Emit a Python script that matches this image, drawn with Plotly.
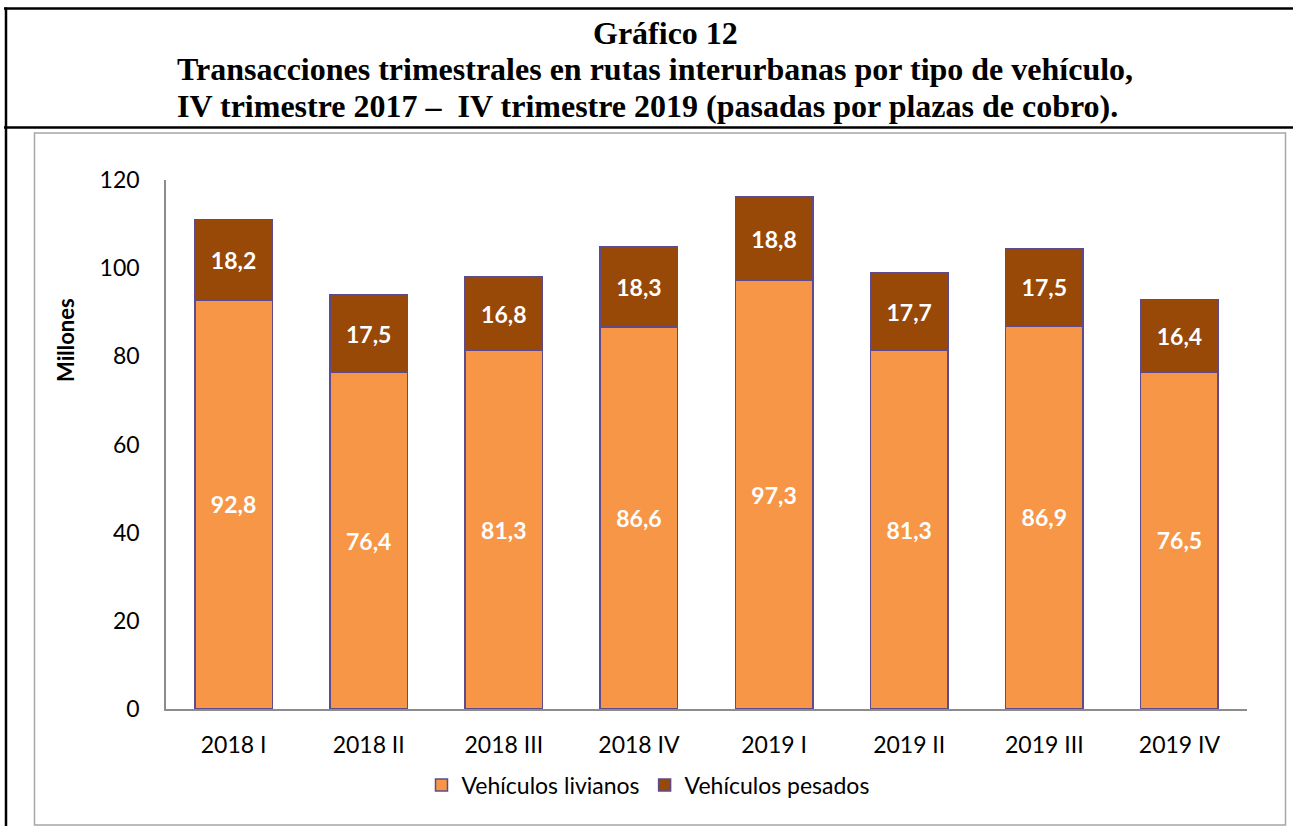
import plotly.graph_objects as go

categories = ["2018 I", "2018 II", "2018 III", "2018 IV", "2019 I", "2019 II", "2019 III", "2019 IV"]
livianos = [92.8, 76.4, 81.3, 86.6, 97.3, 81.3, 86.9, 76.5]
pesados = [18.2, 17.5, 16.8, 18.3, 18.8, 17.7, 17.5, 16.4]
series_names = ["Vehículos livianos", "Vehículos pesados"]
title_lines = [
    "Gráfico 12",
    "Transacciones trimestrales en rutas interurbanas por tipo de vehículo,",
    "IV trimestre 2017 –  IV trimestre 2019 (pasadas por plazas de cobro).",
]

W, H = 1293, 826
L, R, T, B = 166, 1247, 180, 709
pw, ph = R - L, B - T

def px(x):
    return (x - L) / pw

def py(y):
    return (B - y) / ph

def fmt(v):
    return f"{v:.1f}".replace(".", ",")

SANS = "Lato, Carlito, Calibri, sans-serif"
SERIF = "Liberation Serif, Times New Roman, serif"
edge = dict(color="#5F4B8B", width=1.5)

fig = go.Figure()
fig.add_trace(go.Bar(
    x=categories, y=livianos, name=series_names[0],
    marker=dict(color="#F79646", line=edge),
    text=[fmt(v) for v in livianos], textposition="inside",
    insidetextanchor="middle", textangle=0,
    textfont=dict(color="white", size=23, family=SANS, weight="bold"),
))
fig.add_trace(go.Bar(
    x=categories, y=pesados, name=series_names[1],
    marker=dict(color="#984807", line=edge),
    text=[fmt(v) for v in pesados], textposition="inside",
    insidetextanchor="middle", textangle=0,
    textfont=dict(color="white", size=23, family=SANS, weight="bold"),
))

shapes = [
    dict(type="line", xref="paper", yref="paper", x0=px(4), x1=px(1293), y0=py(8.5), y1=py(8.5),
         line=dict(color="black", width=2.5)),
    dict(type="line", xref="paper", yref="paper", x0=px(6), x1=px(6), y0=py(7.5), y1=py(830),
         line=dict(color="black", width=2.5)),
    dict(type="line", xref="paper", yref="paper", x0=px(4), x1=px(1293), y0=py(127.5), y1=py(127.5),
         line=dict(color="black", width=2.5)),
    dict(type="rect", xref="paper", yref="paper", x0=px(34.5), x1=px(1285.5), y0=py(133), y1=py(825),
         line=dict(color="#A6A6A6", width=1.5), layer="below"),
]

annotations = []
title_pos = [(665, 33), (655, 69), (647, 106)]
for t, (xx, yy) in zip(title_lines, title_pos):
    annotations.append(dict(
        text="<b>" + t + "</b>", xref="paper", yref="paper", x=px(xx), y=py(yy),
        xanchor="center", yanchor="middle", showarrow=False,
        font=dict(family=SERIF, size=32, color="black"),
    ))
annotations.append(dict(
    text="<b>Millones</b>", xref="paper", yref="paper", x=px(65), y=py(340),
    xanchor="center", yanchor="middle", textangle=-90, showarrow=False,
    font=dict(family=SANS, size=22, color="black"),
))

fig.update_layout(
    width=W, height=H,
    margin=dict(l=L, r=W - R, t=T, b=H - B, pad=0),
    paper_bgcolor="white", plot_bgcolor="white",
    barmode="stack", bargap=0.426,
    separators=",.",
    showlegend=True,
    legend=dict(orientation="h", x=px(648), y=py(785), xanchor="center", yanchor="middle",
                font=dict(family=SANS, size=23, color="black"), traceorder="normal",
                itemwidth=30, tracegroupgap=0),
    shapes=shapes,
    annotations=annotations,
    font=dict(family=SANS, color="black"),
)
fig.update_yaxes(range=[0, 120], dtick=20, showgrid=False, zeroline=False,
                 showline=True, linecolor="#8C8C8C", linewidth=1.5,
                 ticks="", ticklabelstandoff=20,
                 tickfont=dict(family=SANS, size=23, color="black"))
fig.update_xaxes(showgrid=False, showline=True, linecolor="#8C8C8C", linewidth=1.5,
                 ticks="", ticklabelstandoff=15,
                 tickfont=dict(family=SANS, size=23, color="black"))

fig.write_html("out.html", config={"displayModeBar": False},
               post_script="document.body.style.margin='0';document.body.style.overflow='hidden';")
